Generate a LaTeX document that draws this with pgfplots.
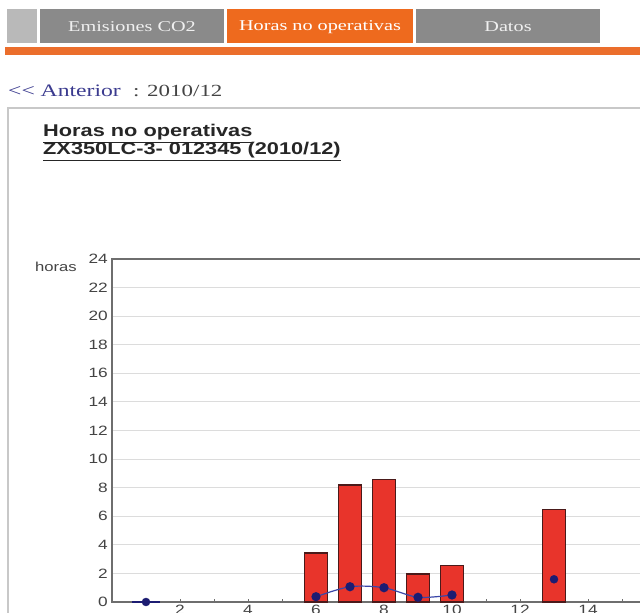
\documentclass[border=0pt]{standalone}
\usepackage{fontspec}
\usepackage{pgfplots}
\pgfplotsset{compat=1.18}
\newfontfamily\sansw[FakeStretch=1.28]{Liberation Sans}
\newfontfamily\serifw[FakeStretch=1.35]{Liberation Serif}
\definecolor{tabgray}{HTML}{8A8A8A}
\definecolor{tablight}{HTML}{B9B9B9}
\definecolor{taborange}{HTML}{EE6A1E}
\definecolor{barorange}{HTML}{EB6E2C}
\definecolor{linkblue}{HTML}{3B3B8F}
\definecolor{framegray}{HTML}{C8C8C8}
\definecolor{axisgray}{HTML}{6E6E6E}
\definecolor{gridgray}{HTML}{DCDCDC}
\definecolor{barred}{HTML}{E8342B}
\definecolor{baredge}{HTML}{4A1A1A}
\definecolor{linecol}{HTML}{3A46A8}
\definecolor{markcol}{HTML}{1C1C72}
\definecolor{labgray}{HTML}{444444}
\begin{document}
\begin{tikzpicture}
\useasboundingbox (0pt,0pt) rectangle (640pt,613pt);
\fill[white] (0pt,0pt) rectangle (640pt,613pt);
\clip (0pt,0pt) rectangle (640pt,613pt);
\begin{scope}[x=1pt,y=1pt]
% tabs
\fill[tablight] (7,570) rectangle (37,604);
\fill[tabgray] (40,570) rectangle (224,604);
\fill[taborange] (227,570) rectangle (413,604);
\fill[tabgray] (416,570) rectangle (600,604);
\fill[barorange] (5,558) rectangle (640,566);
\node[text=white!88!gray, font=\serifw\fontsize{15}{16}\selectfont] at (132,586) {Emisiones CO2};
\node[text=white, font=\serifw\fontsize{15}{16}\selectfont] at (320,586) {Horas no operativas};
\node[text=white!88!gray, font=\serifw\fontsize{15}{16}\selectfont] at (508,586) {Datos};
% link line
\node[anchor=base west, inner sep=0pt, text=linkblue, font=\serifw\fontsize{17.5}{18}\selectfont] at (8,516) {<{}< Anterior};
\node[anchor=base west, inner sep=0pt, text=labgray, font=\serifw\fontsize{17}{18}\selectfont] at (133,516) {: 2010/12};
% frame
\draw[framegray, line width=1.5pt] (8,-5) -- (8,505) -- (645,505);
% title
\node[anchor=base west, inner sep=0pt, text=black!85, font=\sansw\bfseries\fontsize{17}{18}\selectfont] at (43,476) {\underline{Horas no operativas}};
\node[anchor=base west, inner sep=0pt, text=black!85, font=\sansw\bfseries\fontsize{17}{18}\selectfont] at (43,458) {\underline{ZX350LC-3- 012345 (2010/12)}};
\node[anchor=base west, inner sep=0pt, text=labgray, font=\sansw\fontsize{13}{14}\selectfont] at (35,341) {horas};
\end{scope}
\begin{axis}[
  at={(112pt,11pt)}, anchor=south west,
  scale only axis, width=578pt, height=343pt,
  xmin=0, xmax=17, ymin=0, ymax=24,
  axis line style={axisgray, line width=2pt},
  xtick={2,4,...,16}, minor xtick={1,3,...,17},
  xtick pos=left,
  ytick={0,2,...,24},
  tick align=inside, major tick length=3pt, minor tick length=3pt,
  xtick style={axisgray, line width=1pt},
  ytick style={draw=none},
  ymajorgrids, major grid style={gridgray, line width=1pt},
  /pgf/number format/assume math mode=true,
  ticklabel style={font=\sansw\fontsize{13.5}{14}\selectfont, text=labgray, inner sep=0pt},
  yticklabel style={anchor=east, xshift=-4pt},
  xticklabel style={anchor=north, yshift=-3pt},
  clip=false,
]
\addplot[ybar, bar width=23pt, fill=barred, draw=baredge, line width=1.2pt] coordinates {
  (6,3.43) (7,8.19) (8,8.58) (9,1.96) (10,2.54) (13,6.5)
};
\addplot[linecol, line width=1.2pt, smooth, mark=*, mark size=4pt, mark options={fill=markcol, draw=markcol}] coordinates {
  (6,0.37) (7,1.07) (8,1.0) (9,0.33) (10,0.49)
};
\addplot[markcol, line width=2.5pt] coordinates {(0.6,0) (1.4,0)};
\addplot[only marks, mark=*, mark size=4pt, fill=markcol, draw=markcol] coordinates {(1,0) (13,1.59)};
\end{axis}
\end{tikzpicture}
\end{document}
